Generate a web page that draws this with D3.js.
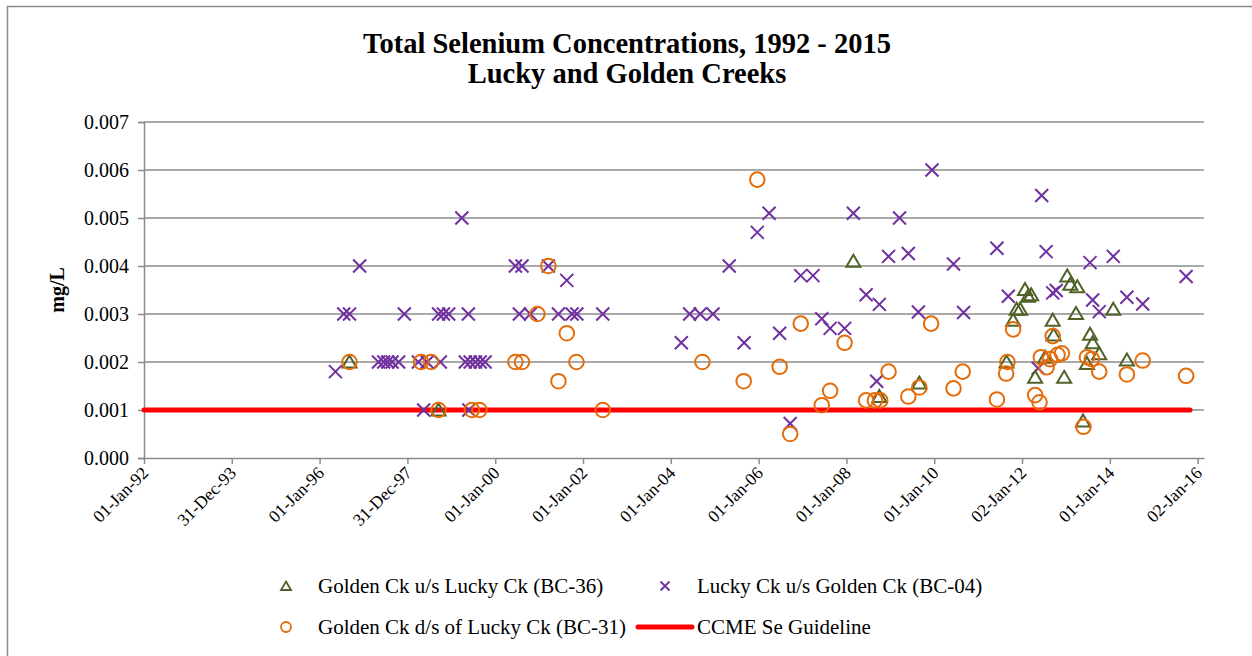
<!DOCTYPE html>
<html>
<head>
<meta charset="utf-8">
<script src="https://cdn.jsdelivr.net/npm/d3@7"></script>
<style>
  body { margin: 0; background: #fff; }
  text { font-family: "Liberation Serif", "DejaVu Serif", serif; fill: #000; }
</style>
</head>
<body>
<div id="chart-container"></div>
<script>
// tick labels on the date axis (Excel major unit = 12 equal steps)
var xTickLabels = ["01-Jan-92","31-Dec-93","01-Jan-96","31-Dec-97","01-Jan-00","01-Jan-02",
  "01-Jan-04","01-Jan-06","01-Jan-08","01-Jan-10","02-Jan-12","01-Jan-14","02-Jan-16"];
var yTicks = [0, 0.001, 0.002, 0.003, 0.004, 0.005, 0.006, 0.007];

// [decimal year, mg/L]
var bc36 = [
  [1996.68,0.002],[1998.71,0.001],[2008.16,0.0041],[2008.75,0.00128],[2009.66,0.00156],
  [2011.65,0.002],[2011.80,0.00287],[2011.88,0.0031],[2011.96,0.0031],[2012.07,0.00351],
  [2012.14,0.00337],[2012.21,0.0034],[2012.30,0.00168],[2012.53,0.0021],[2012.70,0.00287],
  [2012.72,0.00256],[2012.96,0.00168],[2013.03,0.00379],[2013.10,0.00362],[2013.23,0.00301],
  [2013.26,0.00357],[2013.39,0.00077],[2013.48,0.00197],[2013.55,0.00258],[2013.61,0.0024],
  [2013.76,0.00217],[2014.08,0.0031],[2014.39,0.00204]
];
var bc04 = [
  [1996.36,0.0018],[1996.55,0.003],[1996.68,0.003],[1996.91,0.004],[1997.34,0.002],
  [1997.46,0.002],[1997.55,0.002],[1997.65,0.002],[1997.80,0.002],[1997.93,0.003],
  [1998.25,0.002],[1998.45,0.002],[1998.37,0.001],[1998.75,0.002],[1998.71,0.003],
  [1998.82,0.003],[1998.94,0.003],[1999.24,0.005],[1999.39,0.003],[1999.32,0.002],
  [1999.43,0.002],[1999.40,0.001],[1999.55,0.002],[1999.66,0.002],[1999.77,0.002],
  [2000.46,0.004],[2000.61,0.004],[2000.55,0.003],[2000.80,0.003],[2001.21,0.004],
  [2001.63,0.0037],[2001.44,0.003],[2001.75,0.003],[2001.86,0.003],[2002.45,0.003],
  [2004.24,0.0024],[2004.43,0.003],[2004.67,0.003],[2004.96,0.003],[2005.33,0.004],
  [2005.67,0.0024],[2005.97,0.0047],[2006.24,0.0051],[2006.48,0.0026],[2006.72,0.00072],
  [2006.96,0.0038],[2007.24,0.0038],[2007.44,0.0029],[2007.63,0.0027],[2007.96,0.0027],
  [2008.16,0.0051],[2008.45,0.0034],[2008.69,0.0016],[2008.75,0.0032],[2008.96,0.0042],
  [2009.21,0.005],[2009.41,0.00426],[2009.64,0.00304],[2009.95,0.006],[2010.44,0.00404],
  [2010.67,0.00303],[2011.43,0.00437],[2011.69,0.00337],[2012.37,0.00187],[2012.45,0.00547],
  [2012.55,0.0043],[2012.70,0.00344],[2012.78,0.00349],[2013.55,0.00407],[2013.61,0.00329],
  [2013.76,0.00305],[2014.08,0.0042],[2014.39,0.00335],[2014.75,0.00321],[2015.74,0.00378]
];
var bc31 = [
  [1996.68,0.002],[1998.31,0.002],[1998.54,0.002],[1998.71,0.001],[1999.47,0.001],
  [1999.64,0.001],[2000.46,0.002],[2000.61,0.002],[2000.96,0.003],[2001.21,0.004],
  [2001.44,0.0016],[2001.63,0.0026],[2001.85,0.002],[2002.45,0.001],[2004.72,0.002],
  [2005.66,0.0016],[2005.97,0.0058],[2006.48,0.0019],[2006.72,0.0005],[2006.96,0.0028],
  [2007.44,0.0011],[2007.63,0.0014],[2007.96,0.0024],[2008.45,0.0012],[2008.65,0.0012],
  [2008.77,0.0012],[2008.96,0.0018],[2009.41,0.00128],[2009.66,0.00147],[2009.93,0.0028],
  [2010.44,0.00145],[2010.65,0.0018],[2011.43,0.00122],[2011.64,0.00176],[2011.67,0.002],
  [2011.80,0.00268],[2012.30,0.00131],[2012.40,0.00116],[2012.43,0.0021],[2012.56,0.00189],
  [2012.64,0.00206],[2012.70,0.00254],[2012.81,0.00215],[2012.91,0.00218],[2013.40,0.00065],
  [2013.48,0.0021],[2013.59,0.00206],[2013.76,0.0018],[2014.39,0.00174],[2014.75,0.00203],
  [2015.74,0.00171]
];
var guideline = [[1992.0,0.001],[2015.83,0.001]];

var seriesNames = ["Golden Ck u/s Lucky Ck (BC-36)", "Lucky Ck u/s Golden Ck (BC-04)",
  "Golden Ck d/s of Lucky Ck (BC-31)", "CCME Se Guideline"];

var colGreen = "#4f6228", colPurple = "#7030a0", colOrange = "#e46c0a", colRed = "#ff0000";

function toDate(y) {
  var yr = Math.floor(y);
  var s = Date.UTC(yr, 0, 1), e = Date.UTC(yr + 1, 0, 1);
  return new Date(s + (y - yr) * (e - s));
}

var W = 1252, H = 656;
var svg = d3.select("#chart-container").append("svg")
  .attr("width", W).attr("height", H);

// chart border
svg.append("rect").attr("x", 7.5).attr("y", 6.5).attr("width", W + 10).attr("height", H + 10)
  .attr("fill", "none").attr("stroke", "#8a8a8a").attr("stroke-width", 1.5);

var DAY = 86400000;
var t0 = Date.UTC(1992, 0, 1);
var step = 8767 / 12; // days between major ticks
var x = d3.scaleUtc()
  .domain([new Date(t0), new Date(t0 + (8767 + 53) * DAY)])
  .range([144, 1204]);
var y = d3.scaleLinear().domain([0, 0.007]).range([458, 122]);

var tickDates = xTickLabels.map(function(d, i) { return new Date(t0 + i * step * DAY); });

// gridlines
svg.append("g").selectAll("line").data(yTicks.slice(1)).enter().append("line")
  .attr("x1", 144).attr("x2", 1204)
  .attr("y1", function(d) { return y(d); }).attr("y2", function(d) { return y(d); })
  .attr("stroke", "#8c8c8c").attr("stroke-width", 1.5);

// y axis
var yAxis = d3.axisLeft(y).tickValues(yTicks).tickFormat(d3.format(".3f")).tickSize(6).tickPadding(9);
var gy = svg.append("g").attr("transform", "translate(144,0)").call(yAxis);
gy.select(".domain").attr("stroke", "#8c8c8c").attr("stroke-width", 1.5);
gy.selectAll(".tick line").attr("stroke", "#8c8c8c").attr("stroke-width", 1.5);
gy.selectAll(".tick text").style("font-size", "20px").style("font-family", "Liberation Serif");

// x axis
var xAxis = d3.axisBottom(x).tickValues(tickDates)
  .tickFormat(function(d, i) { return xTickLabels[i]; }).tickSize(6).tickSizeOuter(0);
var gx = svg.append("g").attr("transform", "translate(0,458)").call(xAxis);
gx.select(".domain").attr("stroke", "#8c8c8c").attr("stroke-width", 1.5);
gx.selectAll(".tick line").attr("stroke", "#8c8c8c").attr("stroke-width", 1.5);
gx.selectAll(".tick text")
  .style("font-size", "17.5px").style("font-family", "Liberation Serif")
  .attr("text-anchor", "end").attr("dy", null).attr("y", 0)
  .attr("transform", "translate(5,16) rotate(-45)");

// guideline
var line = d3.line().x(function(d) { return x(toDate(d[0])); }).y(function(d) { return y(d[1]); });
svg.append("path").datum(guideline).attr("d", line)
  .attr("fill", "none").attr("stroke", colRed).attr("stroke-width", 5).attr("stroke-linecap", "round");

// markers
var triPath = "M0,-6.5L7,5.5L-7,5.5Z";
var xPath = "M-6.5,-6.5L6.5,6.5M-6.5,6.5L6.5,-6.5";

svg.append("g").selectAll("path").data(bc04).enter().append("path")
  .attr("d", xPath)
  .attr("transform", function(d) { return "translate(" + x(toDate(d[0])) + "," + y(d[1]) + ")"; })
  .attr("fill", "none").attr("stroke", colPurple).attr("stroke-width", 2);

svg.append("g").selectAll("path").data(bc36).enter().append("path")
  .attr("d", triPath)
  .attr("transform", function(d) { return "translate(" + x(toDate(d[0])) + "," + y(d[1]) + ")"; })
  .attr("fill", "none").attr("stroke", colGreen).attr("stroke-width", 2);

svg.append("g").selectAll("circle").data(bc31).enter().append("circle")
  .attr("cx", function(d) { return x(toDate(d[0])); })
  .attr("cy", function(d) { return y(d[1]); })
  .attr("r", 7.3).attr("fill", "none").attr("stroke", colOrange).attr("stroke-width", 2);

// titles
svg.append("text").attr("x", 627).attr("y", 53).attr("text-anchor", "middle")
  .style("font-size", "28.5px").style("font-weight", "bold").text("Total Selenium Concentrations, 1992 - 2015");
svg.append("text").attr("x", 627).attr("y", 83).attr("text-anchor", "middle")
  .style("font-size", "28.5px").style("font-weight", "bold").text("Lucky and Golden Creeks");
svg.append("text").attr("transform", "translate(64,290) rotate(-90)").attr("text-anchor", "middle")
  .style("font-size", "20px").style("font-weight", "bold").text("mg/L");

// legend
var lg = svg.append("g").style("font-size", "21px");
var lpos = [[286, 586], [665, 586], [286, 627], [665, 627]];
lg.append("path").attr("d", "M0,-4.5L5,4L-5,4Z").attr("transform", "translate(" + lpos[0] + ")")
  .attr("fill", "none").attr("stroke", colGreen).attr("stroke-width", 1.8);
lg.append("path").attr("d", "M-4.5,-4.5L4.5,4.5M-4.5,4.5L4.5,-4.5").attr("transform", "translate(" + lpos[1] + ")")
  .attr("fill", "none").attr("stroke", colPurple).attr("stroke-width", 1.8);
lg.append("circle").attr("cx", lpos[2][0]).attr("cy", lpos[2][1]).attr("r", 5)
  .attr("fill", "none").attr("stroke", colOrange).attr("stroke-width", 1.8);
lg.append("line").attr("x1", lpos[3][0] - 27).attr("x2", lpos[3][0] + 27)
  .attr("y1", lpos[3][1]).attr("y2", lpos[3][1])
  .attr("stroke", colRed).attr("stroke-width", 5).attr("stroke-linecap", "round");
seriesNames.forEach(function(n, i) {
  lg.append("text").attr("x", lpos[i][0] + 32).attr("y", lpos[i][1] + 7).text(n);
});
</script>
</body>
</html>
